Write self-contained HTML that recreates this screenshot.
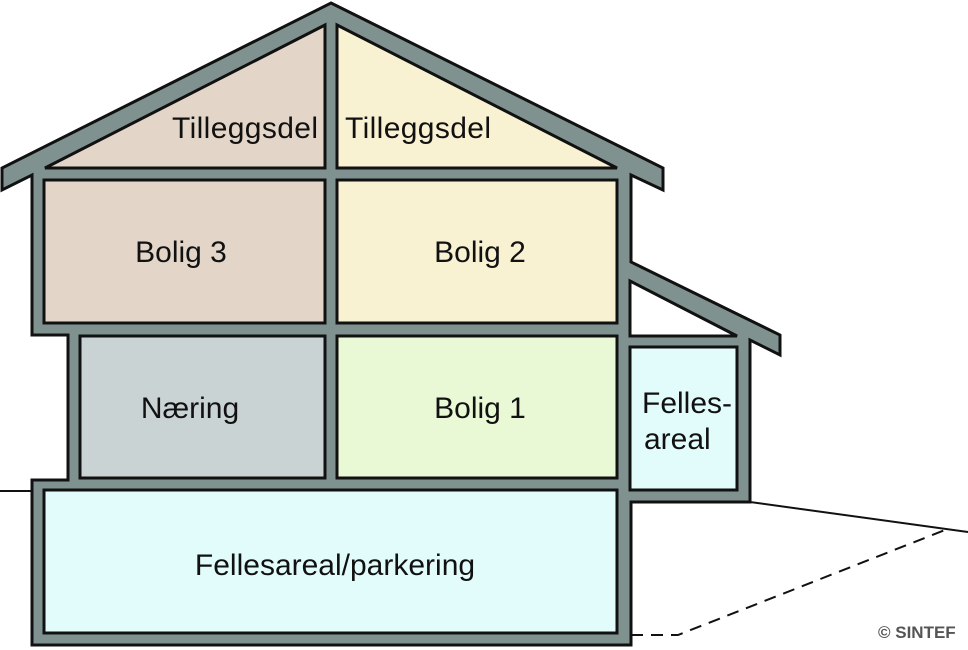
<!DOCTYPE html>
<html><head><meta charset="utf-8"><style>
html,body{margin:0;padding:0;background:#fff;}
svg{display:block;}
text{font-family:"Liberation Sans",Arial,sans-serif;fill:#111;}
</style></head><body>
<svg width="968" height="650" viewBox="0 0 968 650" xmlns="http://www.w3.org/2000/svg">
<polygon points="331,3 663,168 663,190 631,175 631,262 780,335 780,355 750,340 750,502 631,502 631,645 32,645 32,480 68,480 68,335 32,335 32,175 2,190 2,168" fill="#7f9290" stroke="#111" stroke-width="3" stroke-linejoin="miter"/>
<g stroke="#111" stroke-width="3">
<polygon points="45,168 325,25 325,168" fill="#e3d6c8"/>
<polygon points="337,25 337,168 617,168" fill="#f8f1d2"/>
<rect x="44" y="180" width="281" height="143" fill="#e3d6c8"/>
<rect x="337" y="180" width="280" height="143" fill="#f8f1d2"/>
<rect x="80" y="336" width="245" height="142" fill="#c9d3d3"/>
<rect x="337" y="336" width="280" height="142" fill="#e9f9d5"/>
<rect x="630" y="347" width="107" height="143" fill="#e2fbfb"/>
<rect x="44" y="490" width="573" height="143" fill="#e2fbfb"/>
<polygon points="630,281 630,336 737,336" fill="#fff"/>
</g>
<line x1="0" y1="491" x2="32" y2="491" stroke="#111" stroke-width="2"/>
<line x1="750" y1="502" x2="968" y2="532" stroke="#111" stroke-width="2"/>
<polyline points="631,635 678,635 945,530" fill="none" stroke="#111" stroke-width="2" stroke-dasharray="12,8"/>
<g font-size="30">
<text x="318" y="138" text-anchor="end" textLength="146">Tilleggsdel</text>
<text x="345" y="138" textLength="146">Tilleggsdel</text>
<text x="181" y="262" text-anchor="middle">Bolig 3</text>
<text x="480" y="262" text-anchor="middle">Bolig 2</text>
<text x="190" y="418" text-anchor="middle">Næring</text>
<text x="480" y="418" text-anchor="middle">Bolig 1</text>
<text x="642" y="413">Felles-</text>
<text x="644" y="449">areal</text>
<text x="335" y="575" text-anchor="middle">Fellesareal/parkering</text>
</g>
<text x="878" y="638" font-size="17" font-weight="bold" style="fill:#555">© SINTEF</text>
</svg>
</body></html>
